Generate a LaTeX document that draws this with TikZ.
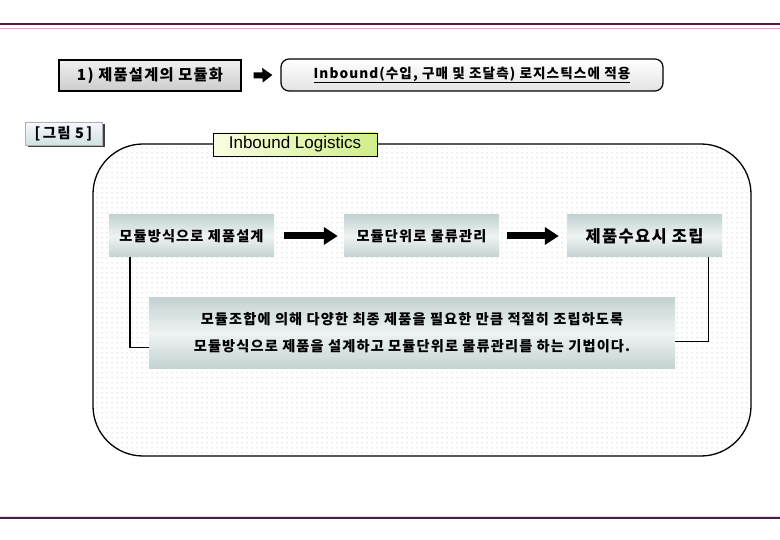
\documentclass[tikz,border=0pt]{standalone}
\usepackage{fontspec}
\setmainfont{Liberation Sans}
\newfontfamily\kr[LetterSpace=8]{Noto Sans CJK KR}
\usetikzlibrary{arrows.meta,patterns.meta,shadows}
\definecolor{plum}{HTML}{4A1F45}
\definecolor{pinkline}{HTML}{D8A2D2}
\definecolor{boxtop}{HTML}{C4D2D2}
\definecolor{boxmid}{HTML}{EEF3F3}
\definecolor{titleL}{HTML}{FAFDE2}
\definecolor{titleR}{HTML}{D0EE8A}
\tikzdeclarepattern{
  name=mydots,
  type=uncolored,
  bounding box={(0pt,0pt) and (5pt,5pt)},
  tile size={(5pt,5pt)},
  code={\fill (2.5pt,2.5pt) circle (0.6pt);}
}
\tikzset{
  stepbox/.style={inner sep=0pt, minimum height=42pt, top color=boxtop, bottom color=boxtop, middle color=boxmid, font=\kr\bfseries\fontsize{14.2}{14.2}\selectfont},
  fatarrow/.style={line width=7pt, -{Triangle[length=14pt,width=17pt]}},
  smallarrow/.style={line width=6pt, -{Triangle[length=10pt,width=14pt]}},
  link/.style={line width=1.4pt},
}
\begin{document}
\begin{tikzpicture}[x=1pt,y=-1pt]
\useasboundingbox (0,0) rectangle (780,540);
% header / footer lines
\fill[plum] (0,22.8) rectangle (780,25.2);
\fill[pinkline] (0,27.6) rectangle (780,28.8);
\fill[pinkline!50] (0,515.8) rectangle (780,516.6);
\fill[plum] (0,516.6) rectangle (780,519);
% top row
\node[draw, line width=1.2pt, inner sep=0pt, minimum width=182pt, minimum height=31pt,
      top color=gray!12, bottom color=gray!40, font=\kr\bfseries\fontsize{15.3}{15.3}\selectfont]
  (b1) at (150,75.5) {1) 제품설계의 모듈화};
\node[draw, line width=1.2pt, rounded corners=8pt, inner sep=0pt, minimum width=382pt, minimum height=32pt,
      top color=white, bottom color=gray!22, font=\kr\bfseries\fontsize{13.6}{13.6}\selectfont]
  (b2) at (472,75) {\underline{Inbound(수입, 구매 및 조달측) 로지스틱스에 적용}};
\draw[smallarrow] ([xshift=12pt]b1.east) -- ([xshift=-8pt]b2.west);
% figure label
\node[draw=gray!60, inner sep=0pt, minimum width=77pt, minimum height=23pt,
      top color=blue!3, bottom color=cyan!25!gray!30,
      drop shadow={shadow xshift=2.5pt, shadow yshift=-2.5pt, fill=black!75, opacity=1},
      font=\kr\bfseries\fontsize{14.5}{14.5}\selectfont]
  (fig) at (63.5,133.5) {[\,그림 5\,]};
% big panel
\node[draw, line width=1.3pt, rounded corners=50pt, inner sep=0pt, minimum width=658pt, minimum height=312pt,
      preaction={fill=white}, pattern=mydots, pattern color=black!35]
  (panel) at (422,300) {};
\node[draw, line width=0.8pt, inner sep=0pt, minimum width=164pt, minimum height=23pt,
      left color=titleL, right color=titleR, font=\fontsize{17}{17}\selectfont]
  (title) at (295,144.5) {Inbound Logistics};
% step boxes
\node[stepbox, minimum width=165pt] (A) at (191.5,236) {모듈방식으로 제품설계};
\node[stepbox, minimum width=155pt] (B) at (421.5,236) {모듈단위로 물류관리};
\node[stepbox, minimum width=155pt, font=\kr\bfseries\fontsize{16.5}{16.5}\selectfont] (C) at (644.5,236) {제품수요시 조립};
\node[stepbox, minimum width=526pt, minimum height=71pt, align=center,
      font=\kr\bfseries\fontsize{14.2}{27}\selectfont]
  (D) at (412,333) {모듈조합에 의해 다양한 최종 제품을 필요한 만큼 적절히 조립하도록\\모듈방식으로 제품을 설계하고 모듈단위로 물류관리를 하는 기법이다.};
\draw[fatarrow] ([xshift=10pt]A.east) -- ([xshift=-6pt]B.west);
\draw[fatarrow] ([xshift=8pt]B.east) -- ([xshift=-8pt]C.west);
\draw[link] ([xshift=21pt]A.south west) |- ([yshift=21pt]D.south west);
\draw[link] ([xshift=-14pt]C.south east) |- ([yshift=27pt]D.south east);
\end{tikzpicture}
\end{document}
